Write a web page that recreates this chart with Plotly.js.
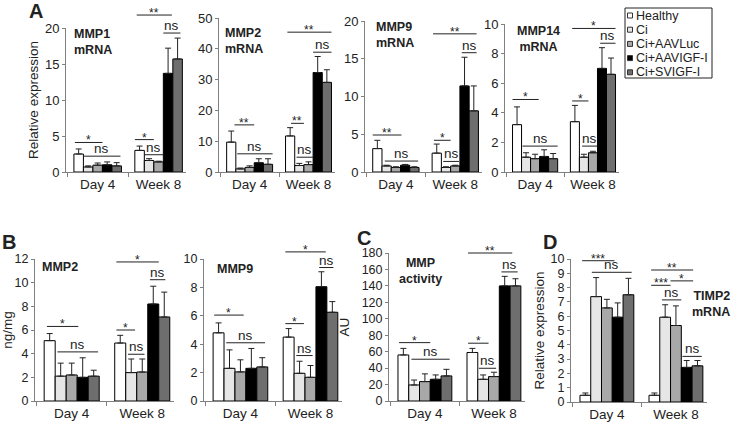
<!DOCTYPE html>
<html>
<head>
<meta charset="utf-8">
<script src="https://cdn.plot.ly/plotly-3.0.1.min.js"></script>
<style>
html,body{margin:0;padding:0;background:#fff}
#wrap{position:relative;width:733px;height:427px}
#top{width:733px;height:210px}
#bottom{width:733px;height:217px}
#legend{position:absolute;left:622px;top:0;width:111px;height:90px}
</style>
</head>
<body>
<div id="wrap">
  <div id="top"></div>
  <div id="bottom"></div>
  <div id="legend"></div>
</div>
<script>
// groups and treatment series
var groups = ["Day 4", "Week 8"];
var seriesNames = ["Healthy", "Ci", "Ci+AAVLuc", "Ci+AAVIGF-I", "Ci+SVIGF-I"];

// values per series: [Day 4, Week 8]; errors are upper SD
var mmp1Mrna = [[2.5, 3.0], [0.7, 1.6], [0.95, 1.4], [1.0, 13.7], [0.85, 15.7]];
var mmp1MrnaErr = [[0.7, 0.6], [0.15, 0.25], [0.3, 0.1], [0.4, 3.5], [0.45, 2.9]];
var mmp2Mrna = [[9.7, 11.7], [1.0, 2.1], [1.5, 2.4], [3.0, 32.3], [2.5, 29.1]];
var mmp2MrnaErr = [[3.6, 2.7], [0.3, 0.7], [0.5, 0.9], [1.3, 5.2], [1.8, 4.1]];
var mmp9Mrna = [[3.1, 2.5], [0.8, 0.6], [0.6, 0.8], [0.9, 11.4], [0.6, 8.1]];
var mmp9MrnaErr = [[1.1, 1.2], [0.1, 0.1], [0.1, 0.1], [0.1, 3.8], [0.1, 3.3]];
var mmp14Mrna = [[3.2, 3.4], [1.0, 1.0], [0.9, 1.3], [1.05, 7.0], [0.9, 6.6]];
var mmp14MrnaErr = [[1.2, 1.1], [0.3, 0.2], [0.3, 0.1], [0.45, 1.4], [0.35, 1.1]];
var mmp2Prot = [[5.1, 4.9], [2.1, 2.4], [2.2, 2.45], [2.0, 8.2], [2.1, 7.1]];
var mmp2ProtErr = [[0.6, 0.65], [1.1, 1.15], [1.0, 1.1], [1.65, 1.5], [0.5, 2.1]];
var mmp9Prot = [[4.8, 4.5], [2.3, 1.95], [2.05, 1.67], [2.3, 8.05], [2.4, 6.25]];
var mmp9ProtErr = [[0.7, 0.6], [1.3, 0.85], [0.85, 0.83], [1.4, 1.05], [0.65, 0.75]];
var mmpActivity = [[56, 59], [19.5, 26.4], [23.6, 29.7], [26.4, 140], [30.5, 140]];
var mmpActivityErr = [[8, 5], [6, 5.3], [9.4, 5.3], [5.3, 11.6], [8, 8.7]];
var timp2Mrna = [[0.47, 0.47], [7.37, 5.93], [6.58, 5.35], [5.93, 2.42], [7.5, 2.53]];
var timp2MrnaErr = [[0.16, 0.16], [1.33, 0.87], [0.6, 1.37], [1.0, 0.48], [1.15, 0.37]];

// y tick values per panel
var mmp1Ticks = [0, 5, 10, 15, 20];
var mmp2Ticks = [0, 10, 20, 30, 40, 50];
var mmp9Ticks = [0, 5, 10, 15, 20];
var mmp14Ticks = [0, 2, 4, 6, 8, 10];
var mmp2ProtTicks = [0, 2, 4, 6, 8, 10, 12];
var mmp9ProtTicks = [0, 2, 4, 6, 8, 10];
var activityTicks = [0, 20, 40, 60, 80, 100, 120, 140, 160, 180];
var timp2Ticks = [0, 1, 2, 3, 4, 5, 6, 7, 8, 9, 10];

// significance: [group, from bar, to bar, level, label]
var mmp1MrnaSig = [[0, 0.1, 3.0, 4.1, "*"], [0, 1.0, 4.9, 2.2, "ns"], [1, 0.2, 3.9, 21.8, "**"], [1, 3.0, 4.8, 19.3, "ns"], [1, 0.0, 2.0, 4.5, "*"], [1, 1.0, 3.0, 2.4, "ns"]];
var mmp2MrnaSig = [[0, 0.85, 3.0, 15.3, "**"], [0, 1.15, 5.0, 5.9, "ns"], [1, 0.2, 5.0, 45.4, "**"], [1, 3.0, 5.0, 38.9, "ns"], [1, 0.6, 2.0, 15.8, "**"], [1, 1.2, 3.0, 4.8, "ns"]];
var mmp9MrnaSig = [[0, 0.0, 3.1, 4.9, "**"], [0, 1.3, 4.9, 1.45, "ns"], [1, 0.1, 4.8, 18.3, "**"], [1, 3.2, 4.8, 15.8, "ns"], [1, 0.2, 2.0, 4.2, "*"], [1, 1.2, 2.9, 1.4, "ns"]];
var mmp14MrnaSig = [[0, 0.0, 2.9, 4.9, "*"], [0, 1.1, 5.0, 1.75, "ns"], [1, 0.2, 5.0, 9.7, "*"], [1, 3.3, 5.0, 8.7, "ns"], [1, 0.2, 2.0, 4.8, "*"], [1, 1.3, 3.0, 1.75, "ns"]];
var mmp2ProtSig = [[0, 0.25, 3.1, 6.3, "*"], [0, 1.2, 4.9, 4.15, "ns"], [1, 0.15, 4.0, 11.75, "*"], [1, 3.2, 4.6, 10.25, "ns"], [1, 0.15, 1.85, 6.0, "*"], [1, 1.2, 2.7, 3.95, "ns"]];
var mmp9ProtSig = [[0, 0.1, 2.8, 6.05, "*"], [0, 1.2, 4.75, 4.1, "ns"], [1, 0.2, 3.9, 10.5, "*"], [1, 3.3, 4.6, 9.4, "ns"], [1, 0.2, 1.9, 5.45, "*"], [1, 1.2, 2.7, 3.2, "ns"]];
var mmpActivitySig = [[0, 0.1, 3.0, 71, "*"], [0, 1.25, 4.8, 50.8, "ns"], [1, 0.1, 4.2, 180, "**"], [1, 3.2, 4.7, 157, "ns"], [1, 0.1, 2.0, 70.3, "*"], [1, 1.1, 2.7, 39.8, "ns"]];
var timp2MrnaSig = [[0, 0.2, 3.2, 9.88, "***"], [0, 1.1, 4.8, 9.07, "ns"], [1, 0.2, 4.1, 9.23, "**"], [1, 0.2, 2.0, 8.16, "***"], [1, 2.0, 4.1, 8.47, "*"], [1, 1.2, 3.0, 7.14, "ns"], [1, 3.1, 4.9, 3.19, "ns"]];

var W = 733;
var fontFam = "Arial, 'Liberation Sans', sans-serif";
var colors = ["#ffffff", "#e6e6e6", "#a8a8a8", "#000000", "#6e6e6e"];
var axisGray = "#808080";
var bargap = 0.22;
var xRange = [-0.52, 1.45];

// each row is its own figure
var rows = [
  {div: "top", top: 0, height: 210},
  {div: "bottom", top: 210, height: 217}
];

// dom = [left, right, top, bottom] in page px; labelPos = [x, top, align]
var panels = [
  {row: 0, vals: mmp1Mrna, err: mmp1MrnaErr, sig: mmp1MrnaSig, ticks: mmp1Ticks, dom: [66, 186, 28, 172], tick: 13,
    ytitle: {text: "Relative expression", standoff: 3}, label: "MMP1<br>mRNA", labelPos: [72, 25, "left"]},
  {row: 0, vals: mmp2Mrna, err: mmp2MrnaErr, sig: mmp2MrnaSig, ticks: mmp2Ticks, dom: [219, 335, 18, 172], tick: 13,
    label: "MMP2<br>mRNA", labelPos: [223, 24, "left"]},
  {row: 0, vals: mmp9Mrna, err: mmp9MrnaErr, sig: mmp9MrnaSig, ticks: mmp9Ticks, dom: [365, 482, 21, 172], tick: 13,
    label: "MMP9<br>mRNA", labelPos: [374, 18, "left"]},
  {row: 0, vals: mmp14Mrna, err: mmp14MrnaErr, sig: mmp14MrnaSig, ticks: mmp14Ticks, dom: [505, 619, 24, 172], tick: 13,
    label: "MMP14<br>mRNA", labelPos: [538, 22, "center"]},
  {row: 1, vals: mmp2Prot, err: mmp2ProtErr, sig: mmp2ProtSig, ticks: mmp2ProtTicks, dom: [35, 174, 259, 401], tick: 12.5,
    ytitle: {text: "ng/mg", standoff: 3}, label: "MMP2", labelPos: [40, 258, "left"]},
  {row: 1, vals: mmp9Prot, err: mmp9ProtErr, sig: mmp9ProtSig, ticks: mmp9ProtTicks, dom: [204, 342, 259, 401], tick: 12.5,
    label: "MMP9", labelPos: [215, 260, "left"]},
  {row: 1, vals: mmpActivity, err: mmpActivityErr, sig: mmpActivitySig, ticks: activityTicks, dom: [389, 525, 253, 401], tick: 12.5,
    ytitle: {text: "AU", standoff: 8}, label: "MMP<br>activity", labelPos: [420, 254, "center"]},
  {row: 1, vals: timp2Mrna, err: timp2MrnaErr, sig: timp2MrnaSig, ticks: timp2Ticks, dom: [571, 707, 259, 402], tick: 12.5,
    ytitle: {text: "Relative expression", standoff: 2}, label: "TIMP2<br>mRNA", labelPos: [732, 287, "right"]}
];

// panel letters [text, x, y, row]
var letters = [["A", 36, 11, 0], ["B", 9, 242, 1], ["C", 364, 238, 1], ["D", 550, 242, 1]];

function barPos(g, b) {
  var gw = 1 - bargap;
  return g - gw / 2 + b * gw / seriesNames.length;
}

rows.forEach(function (row, r) {
  var top = row.top, h = row.height;
  function fx(p) { return p / W; }
  function fy(p) { return 1 - (p - top) / h; }

  var data = [], shapes = [], annotations = [];
  var layout = {
    width: W, height: h,
    margin: {l: 0, r: 0, t: 0, b: 0},
    barmode: "group", bargap: bargap, bargroupgap: 0,
    showlegend: false,
    paper_bgcolor: "#ffffff", plot_bgcolor: "#ffffff",
    font: {family: fontFam, color: "#222222"}
  };

  panels.filter(function (p) { return p.row === r; }).forEach(function (p, i) {
    var n = i === 0 ? "" : String(i + 1);
    var xa = "x" + n, ya = "y" + n;
    var yMax = p.ticks[p.ticks.length - 1];

    seriesNames.forEach(function (name, s) {
      data.push({
        type: "bar", name: name, x: groups, y: p.vals[s],
        xaxis: xa, yaxis: ya,
        marker: {color: colors[s], line: {color: "#000", width: 1}},
        error_y: {type: "data", array: p.err[s], arrayminus: [0, 0], symmetric: false,
          color: "#222", thickness: 1, width: 3}
      });
    });

    layout["xaxis" + n] = {
      domain: [fx(p.dom[0]), fx(p.dom[1])], anchor: ya,
      type: "category", range: xRange,
      showline: true, linecolor: axisGray,
      ticks: "outside", tickson: "boundaries", ticklen: 4, tickcolor: axisGray,
      showgrid: false, zeroline: false,
      tickfont: {size: 13.5, color: "#222"}
    };
    layout["yaxis" + n] = {
      domain: [fy(p.dom[3]), fy(p.dom[2])], anchor: xa,
      range: [0, yMax], tickmode: "array", tickvals: p.ticks,
      showline: true, linecolor: axisGray,
      ticks: "outside", ticklen: 3, tickcolor: axisGray,
      showgrid: false, zeroline: false, ticklabeloverflow: "allow",
      tickfont: {size: p.tick, color: "#222"},
      title: p.ytitle ? {text: p.ytitle.text, standoff: p.ytitle.standoff, font: {size: 13.5}} : undefined
    };

    // significance brackets
    p.sig.forEach(function (s) {
      var x0 = barPos(s[0], s[1]), x1 = barPos(s[0], s[2]);
      var yf = s[3] / yMax;
      shapes.push({type: "line", xref: xa, yref: ya + " domain", x0: x0, x1: x1, y0: yf, y1: yf,
        line: {color: "#222", width: 1}});
      var star = s[4].indexOf("*") >= 0;
      annotations.push({xref: xa, yref: ya + " domain", x: (x0 + x1) / 2, y: yf,
        xanchor: "center", yanchor: "bottom", yshift: star ? -7 : -2, showarrow: false,
        text: s[4], font: {size: star ? 12 : 13.5}});
    });

    // panel label inside plot
    annotations.push({xref: "paper", yref: "paper", x: fx(p.labelPos[0]), y: fy(p.labelPos[1]),
      xanchor: p.labelPos[2], yanchor: "top", align: p.labelPos[2], showarrow: false,
      text: "<b>" + p.label + "</b>", font: {size: 12.5}});
  });

  letters.filter(function (l) { return l[3] === r; }).forEach(function (l) {
    annotations.push({xref: "paper", yref: "paper", x: fx(l[1]), y: fy(l[2]),
      xanchor: "center", yanchor: "middle", showarrow: false,
      text: "<b>" + l[0] + "</b>", font: {size: 20}});
  });

  layout.shapes = shapes;
  layout.annotations = annotations;
  Plotly.newPlot(row.div, data, layout, {displayModeBar: false, staticPlot: true});
});

// legend: its own small transparent figure laid over the top-right corner
var legLeft = 622, legW = 111, legH = 90;
var legBox = [625, 8, 712, 78];
var legRow = 14.2;
(function () {
  function lx(p) { return (p - legLeft) / legW; }
  function ly(p) { return 1 - p / legH; }
  var shapes = [], annotations = [];
  shapes.push({type: "rect", xref: "paper", yref: "paper",
    x0: lx(legBox[0]), x1: lx(legBox[2]), y0: ly(legBox[3]), y1: ly(legBox[1]),
    line: {color: "#222222", width: 1}, fillcolor: "#ffffff"});
  seriesNames.forEach(function (name, s) {
    var cy = legBox[1] + 7.5 + s * legRow;
    shapes.push({type: "rect", xref: "paper", yref: "paper",
      x0: lx(legBox[0] + 2.5), x1: lx(legBox[0] + 7.5), y0: ly(cy + 2.5), y1: ly(cy - 2.5),
      line: {color: "#333333", width: 1}, fillcolor: colors[s]});
    annotations.push({xref: "paper", yref: "paper", x: lx(legBox[0] + 9), y: ly(cy),
      xanchor: "left", yanchor: "middle", showarrow: false,
      text: name, font: {size: 12.5, color: "#222222"}});
  });
  Plotly.newPlot("legend", [], {
    width: legW, height: legH,
    margin: {l: 0, r: 0, t: 0, b: 0},
    paper_bgcolor: "rgba(0,0,0,0)", plot_bgcolor: "rgba(0,0,0,0)",
    xaxis: {visible: false}, yaxis: {visible: false},
    showlegend: false,
    font: {family: fontFam, color: "#222222"},
    shapes: shapes, annotations: annotations
  }, {displayModeBar: false, staticPlot: true});
})();
</script>
</body>
</html>
